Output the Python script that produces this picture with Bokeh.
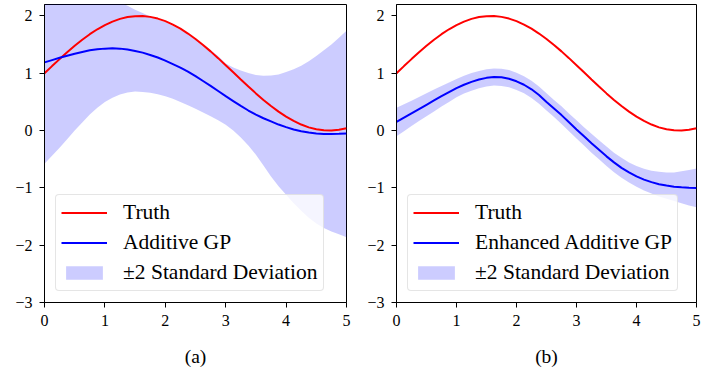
from bokeh.plotting import figure
from bokeh.layouts import row
from bokeh.models import Range1d, FixedTicker, Legend, LegendItem
from bokeh.embed import file_html
from bokeh.resources import INLINE

x_vals = [0.0, 0.125, 0.25, 0.375, 0.5, 0.625, 0.75, 0.875, 1.0, 1.125,
          1.25, 1.375, 1.5, 1.625, 1.75, 1.875, 2.0, 2.125, 2.25, 2.375,
          2.5, 2.625, 2.75, 2.875, 3.0, 3.125, 3.25, 3.375, 3.5, 3.625,
          3.75, 3.875, 4.0, 4.125, 4.25, 4.375, 4.5, 4.625, 4.75, 4.875, 5.0]

truth = [1.000, 1.125, 1.247, 1.366, 1.479, 1.585, 1.682, 1.768, 1.841, 1.902,
         1.949, 1.981, 1.997, 1.999, 1.984, 1.954, 1.909, 1.850, 1.778, 1.693,
         1.598, 1.494, 1.382, 1.264, 1.141, 1.017, 0.892, 0.769, 0.649, 0.535,
         0.428, 0.330, 0.243, 0.168, 0.105, 0.056, 0.022, 0.004, 0.001, 0.014, 0.041]

# (a) Additive GP
mean_a = [1.19, 1.23, 1.27, 1.305, 1.34, 1.37, 1.40, 1.42, 1.43, 1.435,
          1.43, 1.415, 1.39, 1.36, 1.32, 1.275, 1.22, 1.16, 1.10, 1.03,
          0.95, 0.865, 0.78, 0.69, 0.60, 0.515, 0.43, 0.35, 0.28, 0.215,
          0.16, 0.105, 0.06, 0.02, -0.01, -0.035, -0.05, -0.058, -0.06, -0.057, -0.05]
upper_a = [2.96, 2.91, 2.85, 2.78, 2.70, 2.62, 2.54, 2.45, 2.36, 2.30,
           2.24, 2.18, 2.11, 2.05, 1.99, 1.94, 1.89, 1.83, 1.76, 1.68,
           1.59, 1.50, 1.40, 1.30, 1.17, 1.10, 1.05, 1.005, 0.97, 0.955,
           0.96, 0.98, 1.02, 1.07, 1.13, 1.21, 1.30, 1.40, 1.50, 1.62, 1.74]
lower_a = [-0.58, -0.44, -0.30, -0.15, 0.00, 0.14, 0.28, 0.40, 0.50, 0.575,
           0.63, 0.665, 0.68, 0.675, 0.66, 0.635, 0.60, 0.555, 0.50, 0.44,
           0.38, 0.315, 0.25, 0.18, 0.10, 0.00, -0.12, -0.26, -0.42, -0.61,
           -0.80, -0.97, -1.12, -1.27, -1.40, -1.52, -1.62, -1.70, -1.76, -1.81, -1.86]

# (b) Enhanced Additive GP
mean_b = [0.15, 0.225, 0.30, 0.375, 0.45, 0.525, 0.60, 0.67, 0.74, 0.80,
          0.85, 0.89, 0.92, 0.935, 0.93, 0.905, 0.86, 0.80, 0.72, 0.62,
          0.50, 0.385, 0.27, 0.145, 0.02, -0.10, -0.22, -0.335, -0.45, -0.555,
          -0.65, -0.73, -0.80, -0.855, -0.90, -0.935, -0.96, -0.98, -0.99, -0.997, -1.00]
upper_b = [0.40, 0.46, 0.52, 0.585, 0.65, 0.715, 0.78, 0.84, 0.90, 0.955,
           1.005, 1.04, 1.07, 1.085, 1.08, 1.055, 1.01, 0.95, 0.87, 0.77,
           0.65, 0.535, 0.425, 0.30, 0.18, 0.06, -0.055, -0.17, -0.28, -0.385,
           -0.475, -0.555, -0.62, -0.665, -0.70, -0.72, -0.73, -0.73, -0.71, -0.69, -0.66]
lower_b = [-0.10, -0.01, 0.08, 0.165, 0.25, 0.335, 0.42, 0.50, 0.58, 0.645,
           0.695, 0.74, 0.77, 0.785, 0.78, 0.755, 0.71, 0.65, 0.57, 0.47,
           0.35, 0.235, 0.115, -0.012, -0.14, -0.262, -0.385, -0.502, -0.62, -0.727,
           -0.825, -0.907, -0.98, -1.045, -1.10, -1.15, -1.19, -1.23, -1.27, -1.307, -1.34]

x_ticks = [0, 1, 2, 3, 4, 5]
y_ticks = [-3, -2, -1, 0, 1, 2]
y_tick_labels = ["\u22123", "\u22122", "\u22121", "0", "1", "2"]

labels_a = ["Truth", "Additive GP", "\u00b12 Standard Deviation"]
labels_b = ["Truth", "Enhanced Additive GP", "\u00b12 Standard Deviation"]
captions = ["(a)", "(b)"]

FONT = "Liberation Serif"


def make_panel(mean, upper, lower, labels, caption, border_l, frame_w, border_r):
    p = figure(output_backend="svg", toolbar_location=None,
               frame_width=frame_w, frame_height=298,
               min_border_left=border_l, min_border_right=border_r,
               min_border_top=4, min_border_bottom=58,
               x_range=Range1d(0, 5), y_range=Range1d(-3, 2.2))
    p.grid.visible = False
    p.outline_line_color = "black"
    p.outline_line_width = 1
    p.background_fill_color = "white"
    p.border_fill_color = "white"

    band = p.varea(x=x_vals, y1=lower, y2=upper, fill_color="blue", fill_alpha=0.2)
    r_truth = p.line(x_vals, truth, line_color="#ff0000", line_width=2)
    r_mean = p.line(x_vals, mean, line_color="#0000ff", line_width=2)

    for ax in (p.xaxis[0], p.yaxis[0]):
        ax.axis_line_color = "black"
        ax.major_tick_line_color = "black"
        ax.major_tick_in = 0
        ax.major_tick_out = 5
        ax.minor_tick_line_color = None
        ax.major_label_text_font = FONT
        ax.major_label_text_font_size = "16px"
        ax.major_label_text_color = "black"
        ax.major_label_standoff = 7
    p.xaxis.ticker = FixedTicker(ticks=x_ticks)
    p.yaxis.ticker = FixedTicker(ticks=y_ticks)
    p.yaxis.major_label_overrides = {t: l for t, l in zip(y_ticks, y_tick_labels)}
    p.xaxis.axis_label = caption
    p.xaxis.axis_label_text_font = FONT
    p.xaxis.axis_label_text_font_style = "normal"
    p.xaxis.axis_label_text_font_size = "19.5px"
    p.xaxis.axis_label_text_color = "black"
    p.xaxis.axis_label_standoff = 17

    legend = Legend(items=[LegendItem(label=labels[0], renderers=[r_truth]),
                           LegendItem(label=labels[1], renderers=[r_mean]),
                           LegendItem(label=labels[2], renderers=[band])],
                    location="bottom_left", margin=11, padding=5, spacing=5,
                    glyph_width=46, glyph_height=17, label_height=17,
                    label_standoff=16, label_text_font=FONT,
                    label_text_font_size="21.5px", label_text_color="black",
                    border_line_color="#cccccc", border_line_width=1,
                    background_fill_color="white", background_fill_alpha=0.8)
    if "border_radius" in Legend.properties():
        legend.border_radius = 4
    p.add_layout(legend)
    return p


p1 = make_panel(mean_a, upper_a, lower_a, labels_a, captions[0], 44, 302, 14)
p2 = make_panel(mean_b, upper_b, lower_b, labels_b, captions[1], 36, 300, 10)

layout = row(p1, p2, spacing=0)
open("out.html", "w").write(file_html(layout, INLINE))
